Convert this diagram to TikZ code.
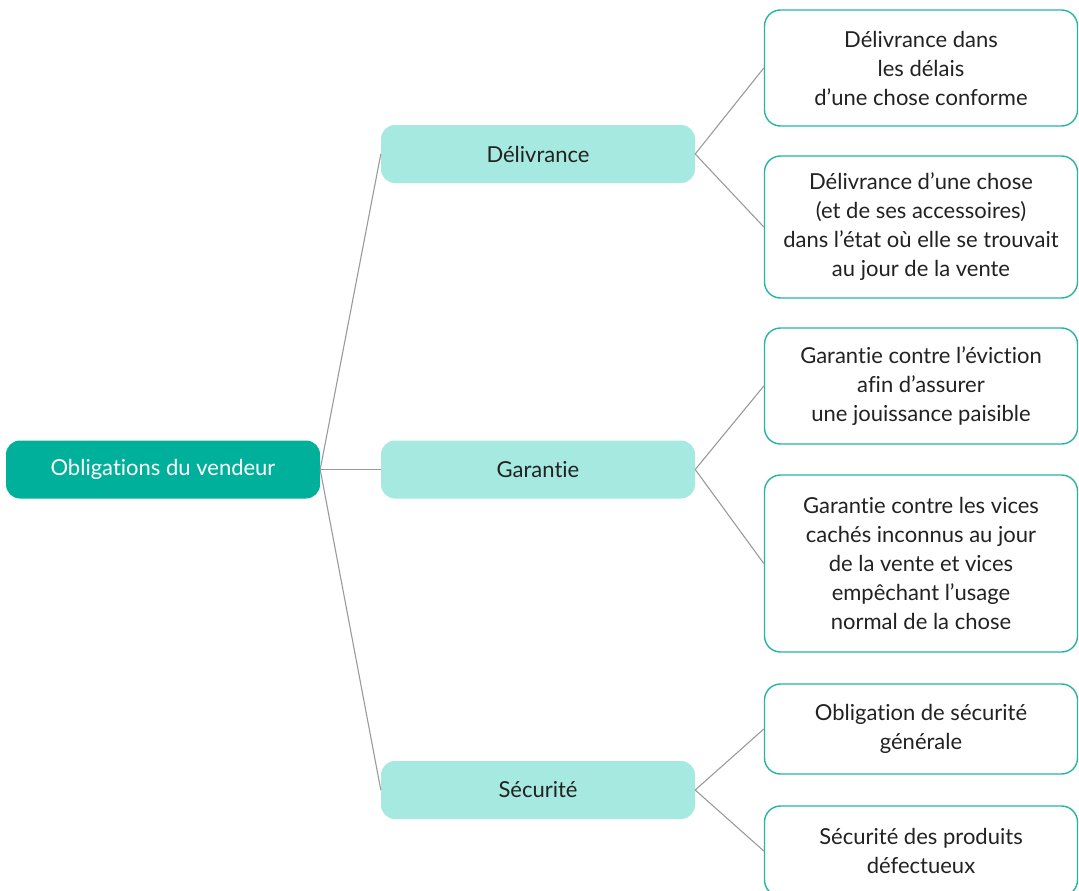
\documentclass[tikz,border=0pt]{standalone}
\usepackage{fontspec}
\setmainfont{Lato}[Ligatures={NoCommon,TeX}]
\usepackage{tikz}

\definecolor{tealdark}{HTML}{00B09B}
\definecolor{teallight}{HTML}{A6E9E0}
\definecolor{tealline}{HTML}{26B5A5}
\definecolor{linkgray}{HTML}{9A9A9A}
\definecolor{textdark}{HTML}{222222}

\begin{document}
\begin{tikzpicture}[x=1pt,y=-1pt,
  every node/.style={font=\fontsize{22}{29}\selectfont,align=center,text=textdark},
  root/.style={fill=tealdark,rounded corners=14pt,minimum width=314pt,minimum height=58pt,text=white,inner sep=0pt},
  branch/.style={fill=teallight,rounded corners=14pt,minimum width=314pt,minimum height=58pt,inner sep=0pt},
  leaf/.style={draw=tealline,line width=1.4pt,fill=white,rounded corners=16pt,minimum width=313pt,inner sep=0pt},
  link/.style={draw=linkgray,line width=1.1pt}]
  \useasboundingbox (0,0) rectangle (1079,891);
  \clip (0,0) rectangle (1079,891);

  \node[root] (O-1) at (163,469.5) {Obligations du vendeur};

  \node[branch] (B-1) at (538,154) {Délivrance};
  \node[branch] (B-2) at (538,469.5) {Garantie};
  \node[branch] (B-3) at (538,790) {Sécurité};

  \node[leaf,minimum height=116pt] (L-1) at (921,68) {Délivrance dans\\les délais\\d’une chose conforme};
  \node[leaf,minimum height=142pt] (L-2) at (921,227) {Délivrance d’une chose\\(et de ses accessoires)\\dans l’état où elle se trouvait\\au jour de la vente};
  \node[leaf,minimum height=116pt] (L-3) at (921,386) {Garantie contre l’éviction\\afin d’assurer\\une jouissance paisible};
  \node[leaf,minimum height=177pt] (L-4) at (921,563.5) {Garantie contre les vices\\cachés inconnus au jour\\de la vente et vices\\empêchant l’usage\\normal de la chose};
  \node[leaf,minimum height=90pt] (L-5) at (921,729) {Obligation de sécurité\\générale};
  \node[leaf,minimum height=90pt] (L-6) at (921,851) {Sécurité des produits\\défectueux};

  \draw[link] (O-1.east) -- (B-1.west);
  \draw[link] (O-1.east) -- (B-2.west);
  \draw[link] (O-1.east) -- (B-3.west);
  \draw[link] (B-1.east) -- (L-1.west);
  \draw[link] (B-1.east) -- (L-2.west);
  \draw[link] (B-2.east) -- (L-3.west);
  \draw[link] (B-2.east) -- (L-4.west);
  \draw[link] (B-3.east) -- (L-5.west);
  \draw[link] (B-3.east) -- (L-6.west);
\end{tikzpicture}
\end{document}
